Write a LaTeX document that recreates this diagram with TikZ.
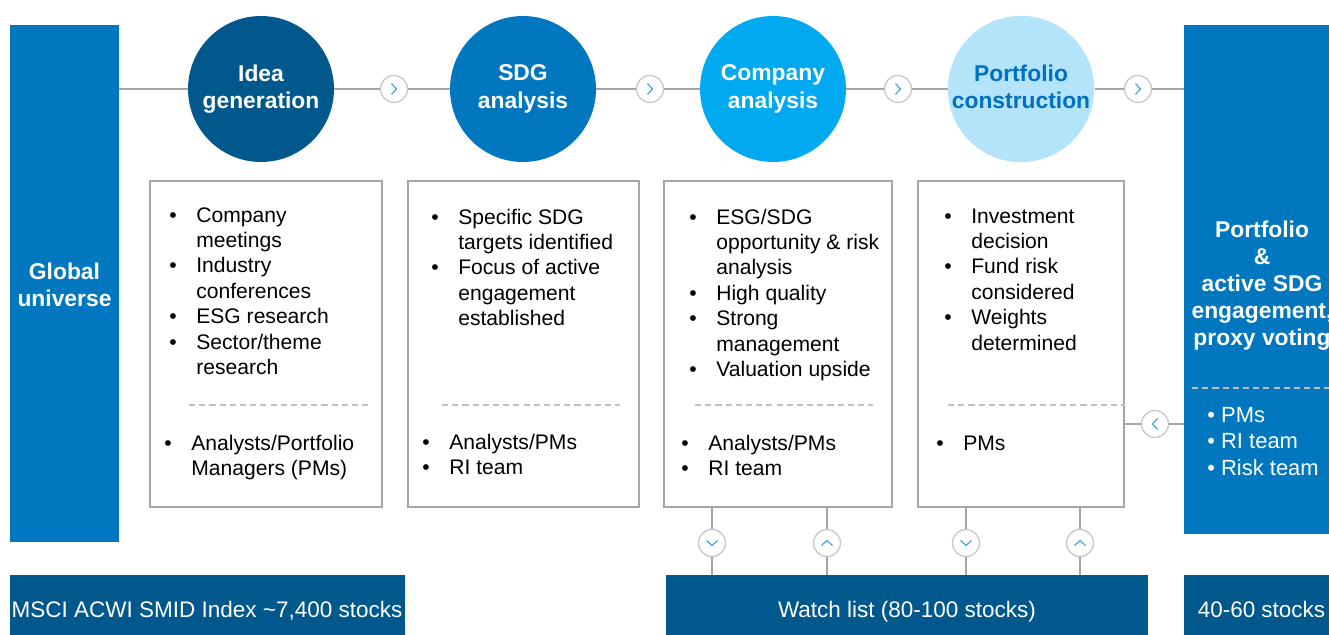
\documentclass[tikz,border=0pt]{standalone}
\usepackage{fontspec}
\setmainfont{Liberation Sans}
\definecolor{navy}{RGB}{0,88,140}
\definecolor{midblue}{RGB}{0,119,190}
\definecolor{brightblue}{RGB}{0,169,240}
\definecolor{paleblue}{RGB}{179,228,250}
\definecolor{textblue}{RGB}{0,112,192}
\definecolor{chevblue}{RGB}{51,153,221}
\definecolor{linegray}{RGB}{166,166,166}
\definecolor{ringgray}{RGB}{200,200,200}
\definecolor{dashgray}{RGB}{191,191,191}
\newcommand{\bul}{\makebox[0.54cm][l]{\textbullet}}

\begin{document}
\begin{tikzpicture}[x=0.02cm, y=-0.02cm,
    stage/.style ={circle, minimum size=2.92cm, inner sep=0pt, align=center, text=white, text depth=2.8pt,
                   font=\bfseries\fontsize{13}{15.4}\selectfont},
    chevron/.style ={circle, draw=ringgray, line width=0.75pt, fill=white, minimum size=0.54cm, inner sep=0pt},
    chevline/.style ={draw=chevblue, line width=0.6pt},
    block/.style ={rectangle, inner sep=0pt},
    panel/.style ={rectangle, draw=linegray, line width=0.8pt, minimum height=6.52cm, inner sep=0pt},
    points/.style ={anchor=base west, inner sep=0pt, font=\fontsize{12}{14.5}\selectfont},
    divider/.style ={draw=dashgray, line width=0.6pt, dash pattern=on 3.5pt off 2.3pt},
    link/.style ={draw=linegray, line width=0.85pt},
    bandtext/.style ={anchor=base, inner sep=0pt, text=white, font=\fontsize{12.8}{15}\selectfont}]
   \useasboundingbox (0,0) rectangle (1329,635);
   \clip (0,0) rectangle (1329,635);

   \node[block, fill=midblue, minimum width=2.18cm, minimum height=10.34cm] (glob) at (64.5,283.5) {};
   \node[align=center, inner sep=0pt, text=white, font=\bfseries\fontsize{13}{15.4}\selectfont]
      (globtext) at (64.5,285) {Global\\universe};
   \node[block, fill=midblue, minimum width=3.22cm, minimum height=10.18cm] (port) at (1264.5,279.5) {};
   \node[block, fill=navy, minimum width=7.9cm, minimum height=1.2cm] (msci) at (207.5,605) {};
   \node[block, fill=navy, minimum width=9.64cm, minimum height=1.2cm] (watch) at (907,605) {};
   \node[block, fill=navy, minimum width=3.22cm, minimum height=1.2cm] (held) at (1264.5,605) {};

   \node[stage, fill=navy] (idea) at (261,89) {Idea\\generation};
   \node[stage, fill=midblue] (sdg) at (523,89) {SDG\\analysis};
   \node[stage, fill=brightblue] (comp) at (773,89) {Company\\analysis};
   \node[stage, fill=paleblue, text=textblue] (pfc) at (1021,89) {Portfolio\\construction};

   \node[panel, minimum width=4.64cm] (box1) at (266,344) {};
   \node[panel, minimum width=4.62cm] (box2) at (523.5,344) {};
   \node[panel, minimum width=4.56cm] (box3) at (778,344) {};
   \node[panel, minimum width=4.12cm] (box4) at (1021,344) {};

   \node[chevron] (ch1) at (394,89) {};
   \node[chevron] (ch2) at (650,89) {};
   \node[chevron] (ch3) at (898,89) {};
   \node[chevron] (ch4) at (1138,89) {};
   \node[chevron] (back) at (1155,424) {};
   \node[chevron] (d1) at (712,543) {};
   \node[chevron] (u1) at (827,543) {};
   \node[chevron] (d2) at (966,543) {};
   \node[chevron] (u2) at (1080,543) {};

   \draw[link] (glob.east |- idea) -- (idea);
   \draw[link] (idea) -- (ch1);
   \draw[link] (ch1) -- (sdg);
   \draw[link] (sdg) -- (ch2);
   \draw[link] (ch2) -- (comp);
   \draw[link] (comp) -- (ch3);
   \draw[link] (ch3) -- (pfc);
   \draw[link] (pfc) -- (ch4);
   \draw[link] (ch4) -- (port.west |- ch4);
   \draw[link] (box4.east |- back) -- (back);
   \draw[link] (back) -- (port.west |- back);
   \draw[link] (d1 |- box3.south) -- (d1);
   \draw[link] (d1) -- (d1 |- watch.north);
   \draw[link] (u1 |- box3.south) -- (u1);
   \draw[link] (u1) -- (u1 |- watch.north);
   \draw[link] (d2 |- box4.south) -- (d2);
   \draw[link] (d2) -- (d2 |- watch.north);
   \draw[link] (u2 |- box4.south) -- (u2);
   \draw[link] (u2) -- (u2 |- watch.north);

   \foreach \c in {ch1,ch2,ch3,ch4}
      \draw[chevline] ([shift={(-2.5,-5.5)}]\c.center) -- ([shift={(2.5,0)}]\c.center) -- ([shift={(-2.5,5.5)}]\c.center);
   \draw[chevline] ([shift={(2.5,-5.5)}]back.center) -- ([shift={(-2.5,0)}]back.center) -- ([shift={(2.5,5.5)}]back.center);
   \foreach \c in {d1,d2}
      \draw[chevline] ([shift={(-5.5,-2.5)}]\c.center) -- ([shift={(0,2.5)}]\c.center) -- ([shift={(5.5,-2.5)}]\c.center);
   \foreach \c in {u1,u2}
      \draw[chevline] ([shift={(-5.5,2.5)}]\c.center) -- ([shift={(0,-2.5)}]\c.center) -- ([shift={(5.5,2.5)}]\c.center);

   \draw[divider] (189,405) -- (368,405);
   \draw[divider] (442,405) -- (620,405);
   \draw[divider] (695,405) -- (873,405);
   \draw[divider] (948,405) -- (1125,405);
   \draw[divider] (1192,388) -- (1329,388);

   \node[points] (list1) at (169,222) {\begin{tabular}[t]{@{}l@{}l@{}}
      \bul & Company\\ & meetings\\ \bul & Industry\\ & conferences\\
      \bul & ESG research\\ \bul & Sector/theme\\ & research\end{tabular}};
   \node[points] (team1) at (164,450) {\begin{tabular}[t]{@{}l@{}l@{}}
      \bul & Analysts/Portfolio\\ & Managers (PMs)\end{tabular}};
   \node[points] (list2) at (431,224) {\begin{tabular}[t]{@{}l@{}l@{}}
      \bul & Specific SDG\\ & targets identified\\ \bul & Focus of active\\
      & engagement\\ & established\end{tabular}};
   \node[points] (team2) at (422,449) {\begin{tabular}[t]{@{}l@{}l@{}}
      \bul & Analysts/PMs\\ \bul & RI team\end{tabular}};
   \node[points] (list3) at (689,224) {\begin{tabular}[t]{@{}l@{}l@{}}
      \bul & ESG/SDG\\ & opportunity \& risk\\ & analysis\\ \bul & High quality\\
      \bul & Strong\\ & management\\ \bul & Valuation upside\end{tabular}};
   \node[points] (team3) at (681,450) {\begin{tabular}[t]{@{}l@{}l@{}}
      \bul & Analysts/PMs\\ \bul & RI team\end{tabular}};
   \node[points] (list4) at (944,223) {\begin{tabular}[t]{@{}l@{}l@{}}
      \bul & Investment\\ & decision\\ \bul & Fund risk\\ & considered\\
      \bul & Weights\\ & determined\end{tabular}};
   \node[points] (team4) at (936,450) {\begin{tabular}[t]{@{}l@{}l@{}}
      \bul & PMs\end{tabular}};

   \node[align=center, inner sep=0pt, text=white, font=\bfseries\fontsize{13}{15.4}\selectfont]
      (porttitle) at (1262,286) {Portfolio\\\&\\active SDG\\engagement,\\proxy voting};
   \node[anchor=base west, inner sep=0pt, text=white, font=\fontsize{12.5}{15.3}\selectfont]
      (portteam) at (1207,422) {\begin{tabular}[t]{@{}l@{}}
      \textbullet{} PMs\\ \textbullet{} RI team\\ \textbullet{} Risk team\end{tabular}};

   \node[bandtext] (mscitext) at (207,617) {MSCI ACWI SMID Index \textasciitilde7,400 stocks};
   \node[bandtext] (watchtext) at (907,617) {Watch list (80-100 stocks)};
   \node[bandtext] (heldtext) at (1261.5,617) {40-60 stocks};
\end{tikzpicture}
\end{document}
